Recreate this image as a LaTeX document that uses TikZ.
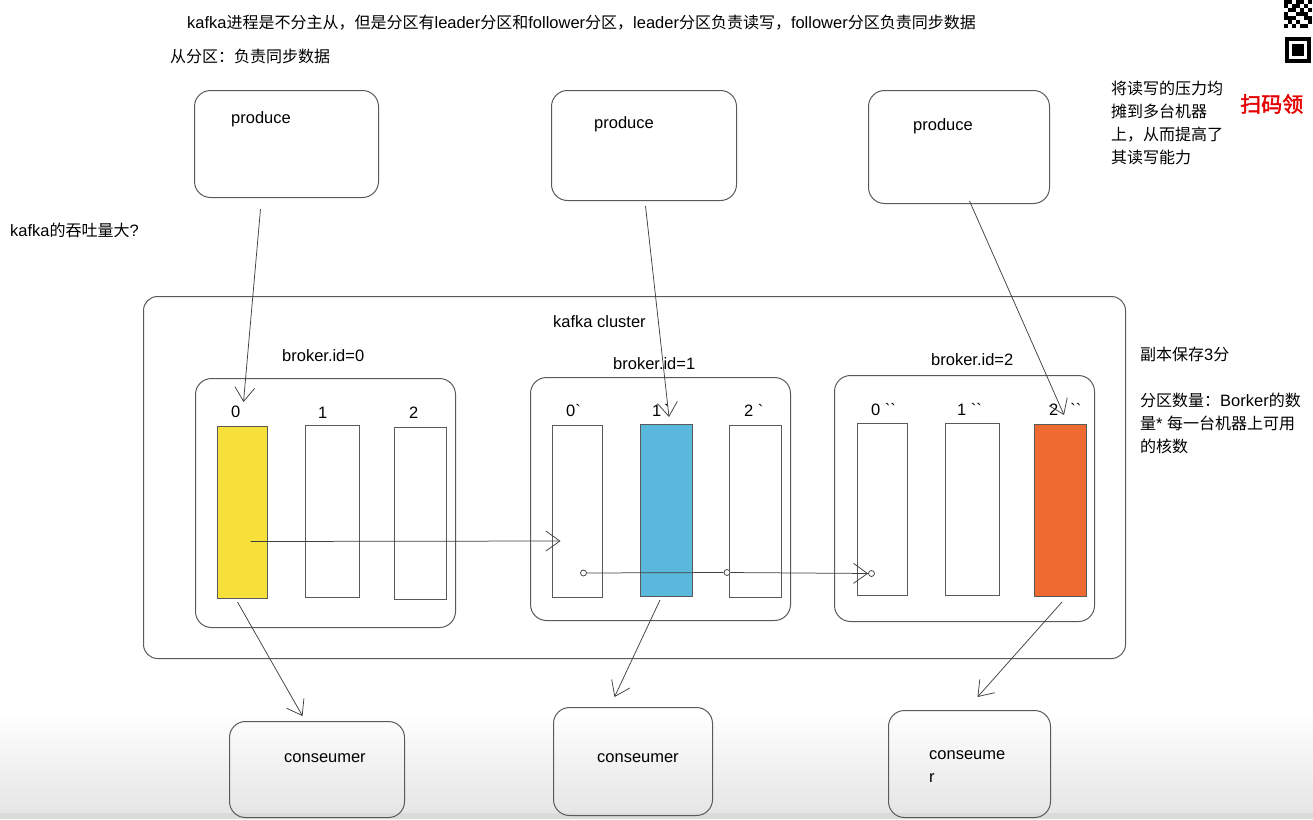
\documentclass[tikz,border=0pt]{standalone}
\usepackage{fontspec}
\setmainfont{Liberation Sans}[Scale=1.03]
\newfontfamily\cjk{Noto Sans CJK SC}
\newfontfamily\cjkb{Noto Sans CJK SC}[FakeBold=2]
\usetikzlibrary{arrows.meta, positioning, calc}

\definecolor{leaderY}{HTML}{F8E03A}
\definecolor{leaderB}{HTML}{5BB8DD}
\definecolor{leaderO}{HTML}{EE6A30}
\definecolor{lineG}{HTML}{5A5A5A}
\newcommand{\zh}[1]{{\cjk #1}}
\newcommand{\bq}{\textasciigrave}

\begin{document}
\begin{tikzpicture}[x=1pt, y=-1pt, >={Straight Barb[length=14pt,width=20pt]},
    font=\fontsize{16}{23}\selectfont]
  \tikzset{
    box/.style={draw=lineG, line width=1pt, rounded corners=16pt,
      anchor=north west, inner sep=0pt},
    part/.style={draw=lineG, line width=1pt, anchor=north west,
      inner sep=0pt, minimum width=52pt, minimum height=172pt},
    txt/.style={anchor=base west, inner sep=0pt},
    plbl/.style={anchor=base west, inner sep=0pt},
    flow/.style={->, draw=black!75, line width=0.75pt},
    dot/.style={circle, draw=black!75, fill=white, inner sep=0pt,
      minimum size=6pt, line width=0.75pt},
  }
  \useasboundingbox (0,0) rectangle (1313,819);

  % grey band at the bottom
  \shade[top color=white, bottom color=black!10] (0,712) rectangle (1313,813);
  \fill[black!14] (0,813) rectangle (1313,819);

  % notes
  \node[txt] (note1) at (187,28)
    {kafka\zh{进程是不分主从，但是分区有}leader\zh{分区和}follower\zh{分区，}leader\zh{分区负责读写，}follower\zh{分区负责同步数据}};
  \node[txt] (note2) at (170,62) {\zh{从分区：负责同步数据}};
  \node[txt] (note3) at (10,236) {kafka\zh{的吞吐量大}?};
  \node[txt, anchor=north west, align=left] (note4) at (1111,80.5)
    {\zh{将读写的压力均}\\\zh{摊到多台机器}\\\zh{上，从而提高了}\\\zh{其读写能力}};
  \node[txt] (note5) at (1140,360) {\zh{副本保存}3\zh{分}};
  \node[txt, anchor=north west, align=left] (note6) at (1140,392.5)
    {\zh{分区数量：}Borker\zh{的数}\\\zh{量}* \zh{每一台机器上可用}\\\zh{的核数}};
  \node[txt, text=red!90!black, font=\fontsize{21}{24}\selectfont] (scan) at (1240,112)
    {{\cjkb 扫码领}};

  % QR corner
  \fill (1285,37) rectangle (1311,63);
  \fill[white] (1289,41) rectangle (1307,59);
  \fill (1292,44) rectangle (1304,56);
  \foreach \c/\r in {0/0,1/0,3/0,4/0,6/0,0/1,2/1,3/1,5/1,1/2,2/2,4/2,6/2,
      0/3,3/3,4/3,5/3,0/4,1/4,2/4,5/4,6/4,1/5,3/5,6/5,0/6,2/6,4/6,5/6}
    \fill ({1284+4*\c},{4*\r}) rectangle ++(4,4);

  % producers
  \node[box, minimum width=184pt, minimum height=107pt] (prod0) at (194,90) {};
  \node[box, minimum width=185pt, minimum height=110pt] (prod1) at (551,90) {};
  \node[box, minimum width=181pt, minimum height=113pt] (prod2) at (868,90) {};
  \node[txt] (prod0t) at ($(prod0.north west)+(37,33)$) {produce};
  \node[txt] (prod1t) at ($(prod1.north west)+(43,38)$) {produce};
  \node[txt] (prod2t) at ($(prod2.north west)+(45,40)$) {produce};

  % cluster and brokers
  \node[box, rounded corners=14pt, minimum width=982pt, minimum height=362pt]
    (cluster) at (143,296) {};
  \node[txt] (clustert) at ($(cluster.north west)+(410,31)$) {kafka cluster};

  \node[box, minimum width=260pt, minimum height=249pt] (brk0) at (195,378) {};
  \node[box, minimum width=260pt, minimum height=243pt] (brk1) at (530,377) {};
  \node[box, minimum width=260pt, minimum height=246pt] (brk2) at (834,375) {};
  \node[txt] (brk0t) at ($(brk0.north west)+(87,-17)$) {broker.id=0};
  \node[txt] (brk1t) at ($(brk1.north west)+(83,-8)$) {broker.id=1};
  \node[txt] (brk2t) at ($(brk2.north west)+(97,-10)$) {broker.id=2};

  % partitions
  \node[part, fill=leaderY, minimum width=50pt] (p00) at (217,426) {};
  \node[part, minimum width=54pt] (p01) at (305,425) {};
  \node[part] (p02) at (394,427) {};
  \node[part, minimum width=50pt] (p10) at (552,425) {};
  \node[part, fill=leaderB] (p11) at (640,424) {};
  \node[part] (p12) at (729,425) {};
  \node[part, minimum width=50pt] (p20) at (857,423) {};
  \node[part, minimum width=54pt] (p21) at (945,423) {};
  \node[part, fill=leaderO] (p22) at (1034,424) {};

  \node[plbl] (l00) at (231,417) {0};
  \node[plbl] (l01) at (318,418) {1};
  \node[plbl] (l02) at (409,418) {2};
  \node[plbl] (l10) at (566,416) {0\bq};
  \node[plbl] (l11) at (652,416) {1\,\bq};
  \node[plbl] (l12) at (744,416) {2 \bq};
  \node[plbl] (l20) at (871,415) {0 \bq\bq};
  \node[plbl] (l21) at (957,415) {1 \bq\bq};
  \node[plbl] (l22) at (1049,415) {2\hspace{12pt}\bq\bq};

  % consumers
  \node[box, minimum width=175pt, minimum height=96pt] (cons0) at (229,721) {};
  \node[box, minimum width=159pt, minimum height=108pt] (cons1) at (553,707) {};
  \node[box, minimum width=162pt, minimum height=107pt] (cons2) at (888,710) {};
  \node[txt] (cons0t) at ($(cons0.north west)+(55,41)$) {conseumer};
  \node[txt] (cons1t) at ($(cons1.north west)+(44,55)$) {conseumer};
  \node[txt, anchor=north west, align=left] (cons2t)
    at ($(cons2.north west)+(41,40.7)$) {conseume\\r};

  % write to leaders
  \draw[flow] ($(prod0.south)+(-26,11)$) -- ($(p00.north)+(1,-24)$);
  \draw[flow] ($(prod1.south)+(1.5,5)$) -- ($(p11.north)+(2.5,-7)$);
  \draw[flow] ($(prod2.south)+(10.5,-3)$) -- ($(p22.north)+(3.5,-9)$);

  % read from leaders
  \draw[flow] ($(p00.south)+(-5,3)$) -- ($(cons0.north)+(-14.5,-5)$);
  \draw[flow] ($(p11.south)+(-6.5,3)$) -- ($(cons1.north)+(-18.5,-10)$);
  \draw[flow] ($(p22.south)+(1.5,5)$) -- ($(cons2.north)+(8,-13)$);

  % replication
  \draw[flow] ($(p00.center)+(8,29)$) -- ($(p10.center)+(-17,29.5)$);
  \node[dot] (d1) at ($(p10.center)+(6,61.5)$) {};
  \node[dot] (d2) at ($(p12.center)+(-28.5,61)$) {};
  \node[dot] (d3) at ($(p20.center)+(-11,64)$) {};
  \draw[flow] (d1) -- (d2) -- (d3);
\end{tikzpicture}
\end{document}
